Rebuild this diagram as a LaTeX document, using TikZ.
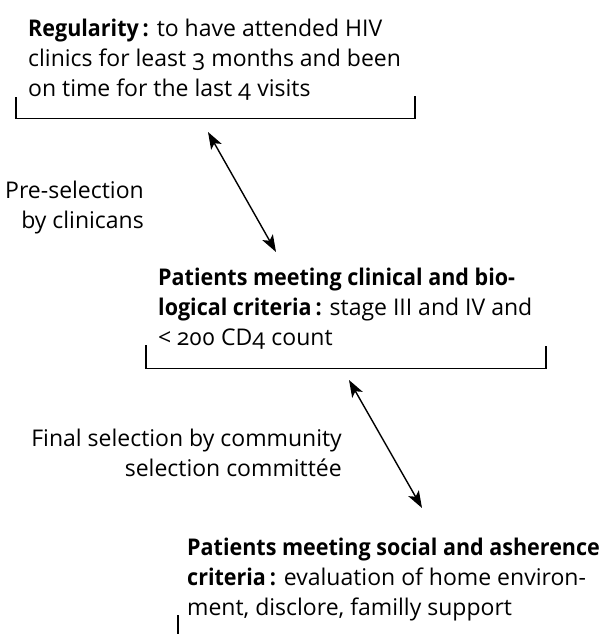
\documentclass[tikz,border=0pt]{standalone}
\usepackage{fontspec}
\setmainfont{Open Sans}[Numbers=OldStyle,BoldFeatures={FakeStretch=0.935}]
\usetikzlibrary{arrows.meta}
\begin{document}
\begin{tikzpicture}[x=1pt,y=-1pt,
  boxtext/.style={anchor=north west,inner sep=0pt,align=left,font=\fontsize{23}{30}\selectfont},
  sidelabel/.style={anchor=north east,inner sep=0pt,align=right,font=\fontsize{23}{30}\selectfont},
  bracketline/.style={line width=1.8pt},
  dblarrow/.style={line width=1.4pt,{Stealth[length=17pt,width=12pt,inset=4pt]}-{Stealth[length=17pt,width=12pt,inset=4pt]}}]
\useasboundingbox (0,0) rectangle (602,634);
\node[boxtext] (reg) at (28,18.5) {\textbf{Regularity\,:} to have attended HIV\\clinics for least 3 months and been\\on time for the last 4 visits};
\node[boxtext] (clin) at (158,268) {\textbf{Patients meeting clinical and bio-}\\\textbf{logical criteria\,:} stage III and IV and\\< 200 CD4 count};
\node[boxtext] (soc) at (187,538) {\textbf{Patients meeting social and asherence}\\\textbf{criteria\,:} evaluation of home environ-\\ment, disclore, familly support};
\node[sidelabel] (pre) at (144,181) {Pre-selection\\by clinicans};
\node[sidelabel] (fin) at (342,428.5) {Final selection by community\\selection committée};
% brackets
\coordinate (b1l) at (16,97); \coordinate (b1r) at (415,96);
\draw[bracketline] (b1l) |- (b1r |- 0,118.5) -- (b1r);
\coordinate (b2l) at (146,345); \coordinate (b2r) at (546,346);
\draw[bracketline] (b2l) |- (b2r |- 0,368.5) -- (b2r);
\coordinate (b3l) at (178,615); \coordinate (b3e) at (178,640);
\draw[bracketline] (b3l) -- (b3e);
% arrows
\coordinate (a1s) at (208,132); \coordinate (a1e) at (276,252);
\draw[dblarrow] (a1s) -- (a1e);
\coordinate (a2s) at (349,380); \coordinate (a2e) at (422,508);
\draw[dblarrow] (a2s) -- (a2e);
\end{tikzpicture}
\end{document}
